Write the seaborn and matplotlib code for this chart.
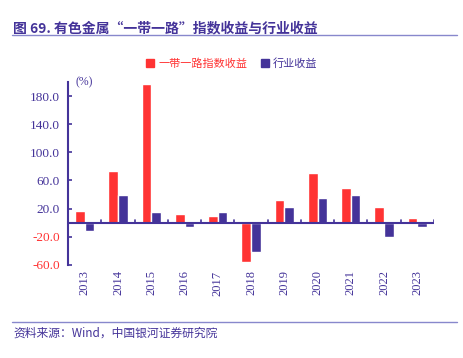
# -*- coding: utf-8 -*-

import matplotlib.pyplot as plt
import matplotlib.lines as mlines
import numpy as np
import pandas as pd
import seaborn as sns

years = ["2013", "2014", "2015", "2016", "2017", "2018",
         "2019", "2020", "2021", "2022", "2023"]
index_ret = [17, 73, 197, 12, 9, -56, 32, 70, 50, 22, 6]
industry_ret = [-12, 39, 15, -6, 15, -42, 23, 35, 40, -20, -6]
series_names = ["一带一路指数收益", "行业收益"]
yticks = [-60, -20, 20, 60, 100, 140, 180]

red = "#ff3333"
navy = "#443399"

sns.set_theme(style="white")
plt.rcParams["font.family"] = ["Noto Sans CJK SC", "DejaVu Sans"]

# long form table for seaborn
df = pd.DataFrame({
    "year": years * 2,
    "value": index_ret + industry_ret,
    "series": [series_names[0]] * len(years) + [series_names[1]] * len(years),
})

fig = plt.figure(figsize=(4.64, 3.58), dpi=100)
ax = fig.add_axes([0.147, 0.26, 0.788, 0.511])

sns.barplot(
    data=df, x="year", y="value", hue="series",
    palette=[red, navy], width=0.58, saturation=1,
    ax=ax, legend=False,
)

ax.set_ylim(-60, 200)
ax.set_xlim(-0.5, len(years) - 0.5)
ax.set_yticks(yticks)
ax.set_yticklabels(["{:.1f}".format(v) for v in yticks],
                   family="Liberation Serif", fontsize=9.5)
for lbl, v in zip(ax.get_yticklabels(), yticks):
    lbl.set_color(red if v < 0 else navy)
ax.set_xticks(range(len(years)))
ax.set_xticklabels(years, rotation=90, family="Liberation Serif",
                   fontsize=9, color=navy)
ax.tick_params(axis="y", direction="in", length=3, color=navy, width=1.2,
               left=True, pad=6)
ax.tick_params(axis="x", length=0, pad=4)
ax.set_xlabel("")
ax.set_ylabel("")

for s in ["top", "right", "bottom"]:
    ax.spines[s].set_visible(False)
ax.spines["left"].set_color(navy)
ax.spines["left"].set_linewidth(1.5)

# zero line with category boundary ticks
ax.axhline(0, color=navy, lw=1.5, zorder=3)
for i in range(len(years)):
    ax.plot([i + 0.5, i + 0.5], [0, 4], color=navy, lw=1.2, zorder=3)

ax.text(0.02, 1.0, "(%)", transform=ax.transAxes, family="Liberation Serif",
        fontsize=8.5, color=navy, va="center", ha="left")

# legend
handles = [plt.Rectangle((0, 0), 1, 1, color=red),
           plt.Rectangle((0, 0), 1, 1, color=navy)]
leg = fig.legend(handles, series_names, loc="center", bbox_to_anchor=(0.5, 0.822),
                 ncol=2, frameon=False, fontsize=8, handlelength=0.7,
                 handleheight=0.7, columnspacing=1.2, handletextpad=0.4)
leg.get_texts()[0].set_color(red)
leg.get_texts()[1].set_color(navy)

# title and footer
fig.text(0.028, 0.921, "图 69. 有色金属“一带一路”指数收益与行业收益",
         fontsize=10, fontweight="bold", color=navy, va="center")
fig.add_artist(mlines.Line2D([0.026, 0.985], [0.902, 0.902], color="#8888cc", lw=1))
fig.add_artist(mlines.Line2D([0.026, 0.985], [0.101, 0.101], color="#8888cc", lw=1))
fig.text(0.028, 0.07, "资料来源：Wind，中国银河证券研究院", fontsize=8.5,
         color=navy, style="italic", va="center")

fig.savefig("out.png", dpi=100)
